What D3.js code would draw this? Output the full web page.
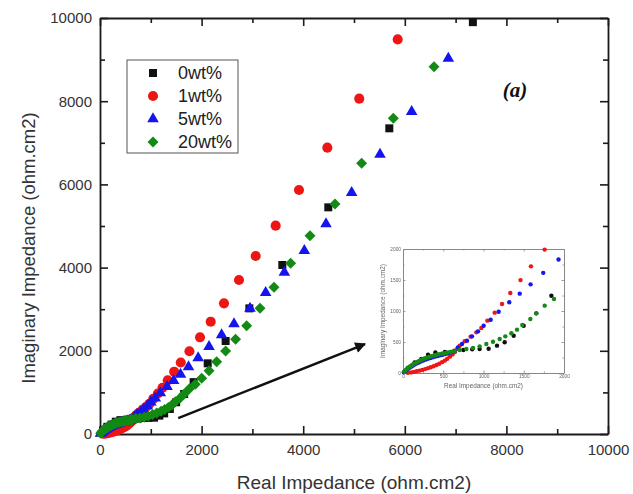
<!DOCTYPE html>
<html><head><meta charset="utf-8">
<script src="https://cdn.jsdelivr.net/npm/d3@7"></script>
<style>body{margin:0;background:#fff}svg{display:block}</style>
</head><body><svg id="c" width="633" height="494"></svg>
<script>
// ---------- data (ohm.cm2) ----------
const seriesNames = ["0wt%", "1wt%", "5wt%", "20wt%"];
const seriesColors = ["#111111", "#ee1515", "#1414ee", "#138a13"];

const x0wt = [60,145,228,311,402,520,640,750,860,952,1064,1168,1263,1375,1499,1656,1843,2120,2473,2940,3589,4494,5695,7340];
const y0wt = [80,172,226,296,333,340,358,372,384,387,392,441,495,602,763,962,1247,1699,2236,3020,4063,5449,7348,9900];

const x1wt = [60,100,135,170,205,240,275,310,345,380,415,450,485,520,550,585,615,645,675,704,766,840,911,973,1048,1139,1230,1333,1460,1590,1760,1969,2179,2441,2736,3065,3458,3917,4475,5103,5860];
const y1wt = [5,10,18,28,38,50,63,78,93,110,130,150,175,200,230,265,300,340,390,441,511,586,656,726,844,973,1113,1290,1498,1720,1990,2324,2700,3141,3702,4279,5008,5865,6883,8061,9486];

const x5wt = [10,25,40,60,80,100,120,145,170,195,220,250,280,310,340,370,400,430,460,490,520,550,580,610,640,683,733,795,857,932,1002,1089,1188,1320,1450,1585,1742,1932,2146,2394,2638,2953,3261,3629,4022,4449,4954,5512,6135,6857];
const y5wt = [12,28,45,65,85,102,118,137,155,170,185,200,215,228,240,253,265,275,285,295,305,315,325,337,350,414,468,521,591,672,763,860,989,1140,1280,1430,1615,1830,2099,2380,2644,3021,3397,3886,4407,5048,5802,6723,7748,9030];

const x20wt = [15,28,40,55,70,90,110,130,150,175,200,225,250,275,300,330,360,390,420,450,480,510,540,565,590,615,640,704,787,870,952,1035,1118,1201,1271,1346,1416,1482,1582,1656,1760,1876,2002,2146,2296,2473,2669,2887,3150,3425,3753,4134,4626,5150,5774,6575];
const y20wt = [20,38,55,72,90,108,125,143,160,178,195,210,225,238,250,263,275,285,295,304,312,319,326,332,338,344,350,371,387,403,430,468,505,548,591,640,699,774,871,962,1086,1194,1339,1522,1739,1995,2276,2604,3021,3526,4103,4768,5529,6506,7590,8830];

const mainMajorTicks = [0,2000,4000,6000,8000,10000];
const mainMinorTicks = [1000,3000,5000,7000,9000];
const insetMajorTicks = [0,500,1000,1500,2000];
const insetMinorTicks = [250,750,1250,1750];

const xTitle = "Real Impedance (ohm.cm2)";
const yTitle = "Imaginary Impedance (ohm.cm2)";
const panelLabel = "(a)";

// ---------- build ----------
const xs = [x0wt, x1wt, x5wt, x20wt], ys = [y0wt, y1wt, y5wt, y20wt];
const series = seriesNames.map((name, i) => ({
  name, color: seriesColors[i], pts: xs[i].map((v, j) => [v, ys[i][j]])
}));

const svg = d3.select("#c");
const FONT = "'Liberation Sans', Arial, sans-serif";
const fmt = d3.format("d");

const x = d3.scaleLinear().domain([0,10000]).range([100,608]);
const y = d3.scaleLinear().domain([0,10000]).range([434,18]);

const shapes = [
  d3.symbol().type(d3.symbolSquare).size(64),
  d3.symbol().type(d3.symbolCircle).size(80),
  d3.symbol().type(d3.symbolTriangle).size(58),
  d3.symbol().type(d3.symbolSquare).size(60)
];
const rot = [0,0,0,45];

function drawAxis(g, axisFn, scale, major, minor, majLen, minLen, labels, pad, fs, col) {
  const a = axisFn(scale).tickValues(major).tickSizeInner(-majLen).tickSizeOuter(0).tickPadding(pad)
    .tickFormat(labels ? fmt : "");
  g.call(a);
  const b = axisFn(scale).tickValues(minor).tickSizeInner(-minLen).tickSizeOuter(0).tickFormat("");
  g.append("g").call(b).select(".domain").remove();
  g.selectAll("text").attr("font-family", FONT).attr("font-size", fs).attr("fill", col);
}

const ax = svg.append("g");
const gB = ax.append("g").attr("transform","translate(0,434)");
drawAxis(gB, d3.axisBottom, x, mainMajorTicks, mainMinorTicks, 8, 5, true, 10, 15, "#333");
const gT = ax.append("g").attr("transform","translate(0,18)");
drawAxis(gT, d3.axisTop, x, mainMajorTicks, mainMinorTicks, 8, 5, false, 3, 15, "#333");
const gL = ax.append("g").attr("transform","translate(100,0)");
drawAxis(gL, d3.axisLeft, y, mainMajorTicks, mainMinorTicks, 8, 5, true, 8, 15, "#333");
const gR = ax.append("g").attr("transform","translate(608,0)");
drawAxis(gR, d3.axisRight, y, mainMajorTicks, mainMinorTicks, 8, 5, false, 3, 15, "#333");
ax.selectAll("line").attr("stroke","#1a1a1a").attr("stroke-width",1.6);
ax.selectAll(".domain").attr("stroke","#1a1a1a").attr("stroke-width",1.8);

svg.append("text").attr("x", 354).attr("y", 489).attr("text-anchor","middle")
  .attr("font-family", FONT).attr("font-size", 19).attr("fill","#333").text(xTitle);
svg.append("text").attr("transform","translate(35,248) rotate(-90)").attr("text-anchor","middle")
  .attr("font-family", FONT).attr("font-size", 18.5).attr("fill","#333").text(yTitle);

const pg = svg.append("g");
series.forEach((s, i) => {
  pg.append("g").selectAll("path").data(s.pts).join("path")
    .attr("d", shapes[i])
    .attr("transform", d => `translate(${x(d[0])},${y(d[1])}) rotate(${rot[i]})`)
    .attr("fill", s.color);
});

const lg = svg.append("g");
lg.append("rect").attr("x",127).attr("y",60).attr("width",111).attr("height",93)
  .attr("fill","#fff").attr("stroke","#555").attr("stroke-width",1);
series.forEach((s, i) => {
  const ly = 73 + i*23;
  lg.append("path").attr("d", shapes[i]).attr("transform", `translate(153,${ly}) rotate(${rot[i]})`).attr("fill", s.color);
  lg.append("text").attr("x",178).attr("y",ly).attr("dy","0.35em")
    .attr("font-family", FONT).attr("font-size",18).attr("fill","#222").text(s.name);
});

svg.append("text").attr("x",515).attr("y",97).attr("text-anchor","middle")
  .attr("font-family","'Liberation Serif','Times New Roman',serif").attr("font-style","italic")
  .attr("font-weight","bold").attr("font-size",21).attr("fill","#111").text(panelLabel);

const defs = svg.append("defs");
defs.append("marker").attr("id","ah").attr("viewBox","0 0 10 10").attr("refX",9).attr("refY",5)
  .attr("markerWidth",5).attr("markerHeight",4.5).attr("orient","auto").attr("markerUnits","strokeWidth")
  .append("path").attr("d","M0,0L10,5L0,10z").attr("fill","#111");
svg.append("line").attr("x1",x(1540)).attr("y1",y(380)).attr("x2",x(5217)).attr("y2",y(2163))
  .attr("stroke","#111").attr("stroke-width",2.4).attr("marker-end","url(#ah)");

// ---------- inset ----------
const xi = d3.scaleLinear().domain([0,2000]).range([403,564]);
const yi = d3.scaleLinear().domain([0,2000]).range([373,249]);
defs.append("filter").attr("id","blur").append("feGaussianBlur").attr("stdDeviation",0.45);
defs.append("clipPath").attr("id","ic").append("rect").attr("x",401).attr("y",246).attr("width",166).attr("height",129);

const ig = svg.append("g").attr("filter","url(#blur)");
ig.append("rect").attr("x",403).attr("y",249).attr("width",161).attr("height",124).attr("fill","#fff");
const iax = ig.append("g");
const iB = iax.append("g").attr("transform","translate(0,373)");
drawAxis(iB, d3.axisBottom, xi, insetMajorTicks, insetMinorTicks, 2.5, 1.5, true, 2, 4.8, "#666");
const iT = iax.append("g").attr("transform","translate(0,249)");
drawAxis(iT, d3.axisTop, xi, insetMajorTicks, insetMinorTicks, 2.5, 1.5, false, 2, 4.8, "#666");
const iL = iax.append("g").attr("transform","translate(403,0)");
drawAxis(iL, d3.axisLeft, yi, insetMajorTicks, insetMinorTicks, 2.5, 1.5, true, 2, 4.8, "#666");
const iR = iax.append("g").attr("transform","translate(564,0)");
drawAxis(iR, d3.axisRight, yi, insetMajorTicks, insetMinorTicks, 2.5, 1.5, false, 2, 4.8, "#666");
iax.selectAll("line").attr("stroke","#888").attr("stroke-width",0.8);
iax.selectAll(".domain").attr("stroke","#888").attr("stroke-width",1);

ig.append("text").attr("x",483.5).attr("y",388).attr("text-anchor","middle")
  .attr("font-family",FONT).attr("font-size",6.4).attr("fill","#666").text(xTitle);
ig.append("text").attr("transform","translate(385,311) rotate(-90)").attr("text-anchor","middle")
  .attr("font-family",FONT).attr("font-size",6.4).attr("fill","#666").text(yTitle);

const ip = ig.append("g").attr("clip-path","url(#ic)");
series.forEach((s) => {
  ip.append("g").selectAll("circle").data(s.pts.filter(d => d[0] <= 2000 && d[1] <= 2000)).join("circle")
    .attr("cx", d => xi(d[0])).attr("cy", d => yi(d[1])).attr("r", 2.2).attr("fill", s.color);
});
</script></body></html>
